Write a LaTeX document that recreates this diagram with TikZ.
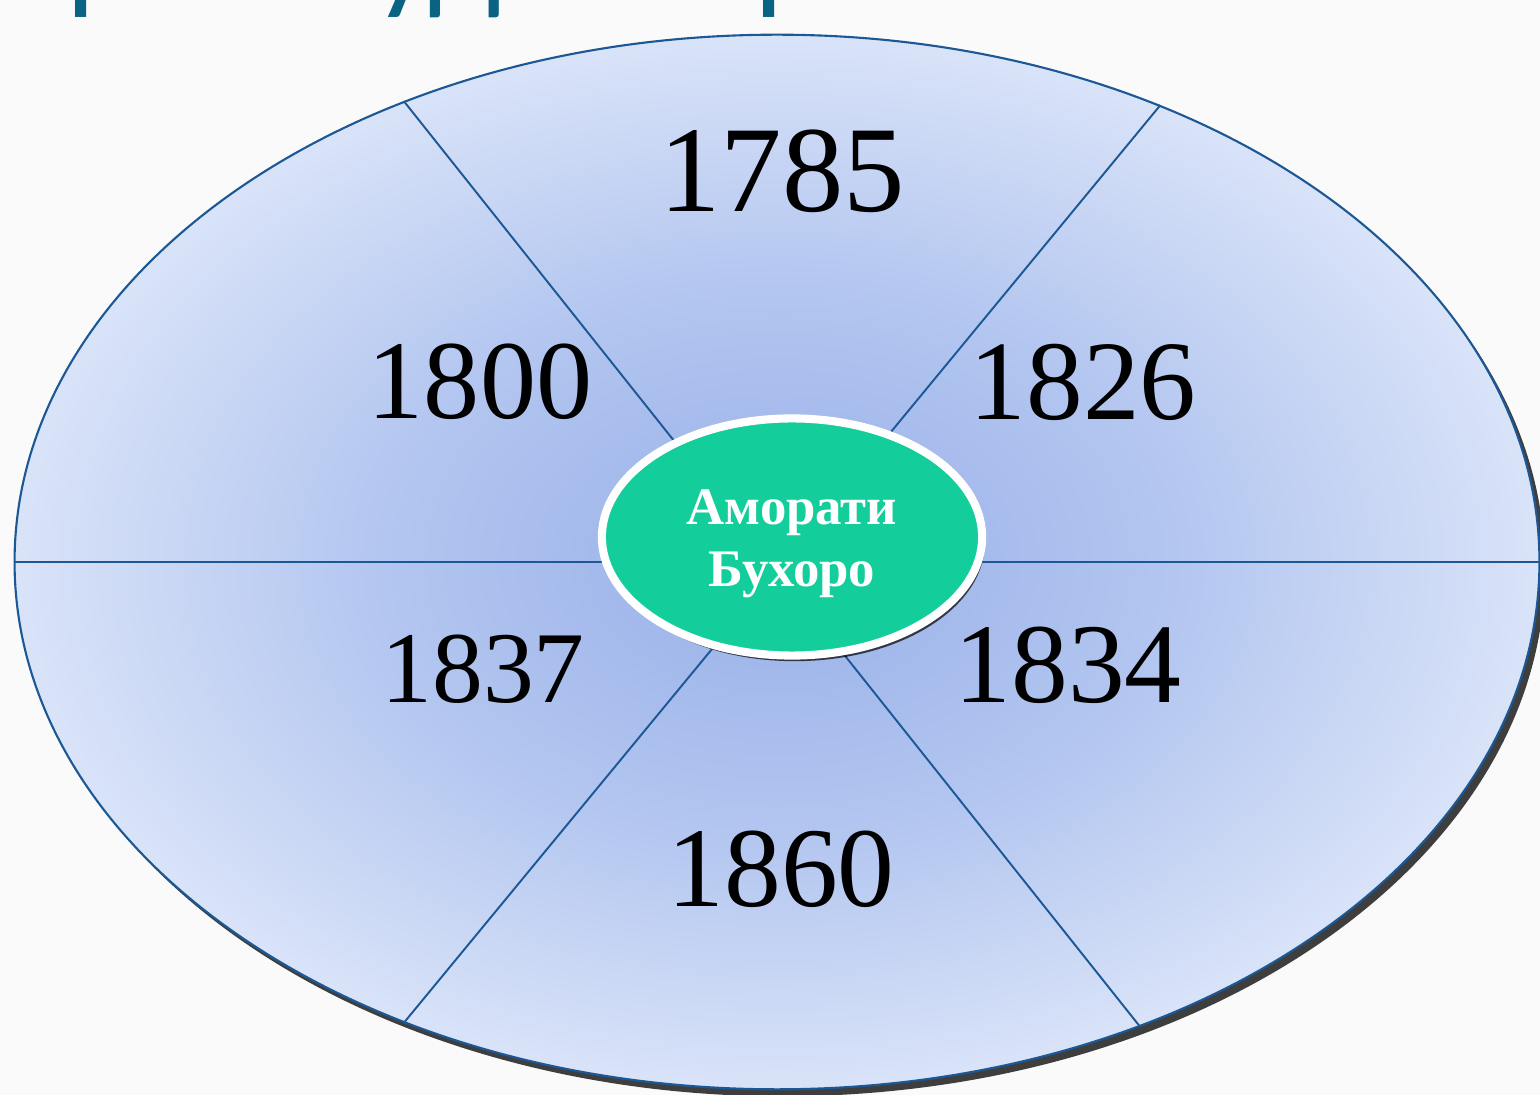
\documentclass[tikz,border=0pt]{standalone}
\usepackage{fontspec}
\setmainfont{Liberation Serif}
\newfontfamily\titlefont{Carlito}
\usepackage{xcolor}
\usepackage{tikz}
\usetikzlibrary{shapes.geometric, shadows, positioning}
\definecolor{plate-in}{HTML}{98B0E8}
\definecolor{plate-mid}{HTML}{B3C6F0}
\definecolor{plate-out}{HTML}{D9E3F8}
\definecolor{plate-edge}{HTML}{1C5896}
\definecolor{hub-green}{HTML}{13CE9A}
\definecolor{title-teal}{HTML}{0B6384}
\pgfdeclareradialshading{plateshade}{\pgfpoint{0bp}{0bp}}{color(0bp)=(plate-in); color(13bp)=(plate-mid); color(25bp)=(plate-out); color(50bp)=(plate-out)}
\tikzset{
    plate/.style={ellipse, draw=plate-edge, line width=0.6pt, shading=plateshade, inner sep=0pt,
        drop shadow={shadow xshift=1.6pt, shadow yshift=-2pt, fill=black, opacity=0.75}},
    divider/.style={draw=plate-edge, line width=0.55pt},
    hub/.style={ellipse, fill=hub-green, draw=white, line width=2.3pt, inner sep=0pt,
        drop shadow={shadow xshift=0.8pt, shadow yshift=-1.6pt, fill=black, opacity=0.7}},
    hubtext/.style={align=center, inner sep=0pt, text=white, font=\bfseries\fontsize{15}{17.6}\selectfont},
    year/.style={inner sep=0pt, text=black}
}

\begin{document}
\begin{tikzpicture}[x=0.01cm, y=-0.01cm]
    \useasboundingbox (0,0) rectangle (1540,1095);
    \fill[white!98!black] (0,0) rectangle (1540,1095);

    \node (plate) [plate, minimum width=15.24cm, minimum height=10.54cm] at (777,562) {};

    % sector lines
    \draw[divider] (plate.180) -- (plate.0);
    \draw[divider] (plate.129.5) -- (plate.308.9);
    \draw[divider] (plate.50.3) -- (plate.231.1);

    \node (y1785) [year, font=\fontsize{34.9}{36}\selectfont] at (782,171) {1785};
    \node (y1800) [year, font=\fontsize{31.9}{33}\selectfont] at (480,382) {1800};
    \node (y1826) [year, font=\fontsize{32.2}{33}\selectfont] at (1083,382) {1826};
    \node (y1837) [year, font=\fontsize{28.9}{30}\selectfont] at (483,669) {1837};
    \node (y1834) [year, font=\fontsize{32.3}{33}\selectfont] at (1068,665) {1834};
    \node (y1860) [year, font=\fontsize{32.3}{33}\selectfont] at (781,869) {1860};

    \node (hub) [hub, minimum width=3.8cm, minimum height=2.37cm] at (792,537) {};
    \node (hubname) [hubtext] at (792,544) {Аморати\\Бухоро};

    % title, cut off by the page edge
    \begin{scope}
        \clip (0,0) rectangle (1540,1095);
        \node (title) [anchor=base west, inner sep=0pt, text=title-teal, font=\titlefont\fontsize{37}{40}\selectfont] at (-168,-3) {Амир ва худо\hskip0.42em бар};
    \end{scope}
\end{tikzpicture}
\end{document}
